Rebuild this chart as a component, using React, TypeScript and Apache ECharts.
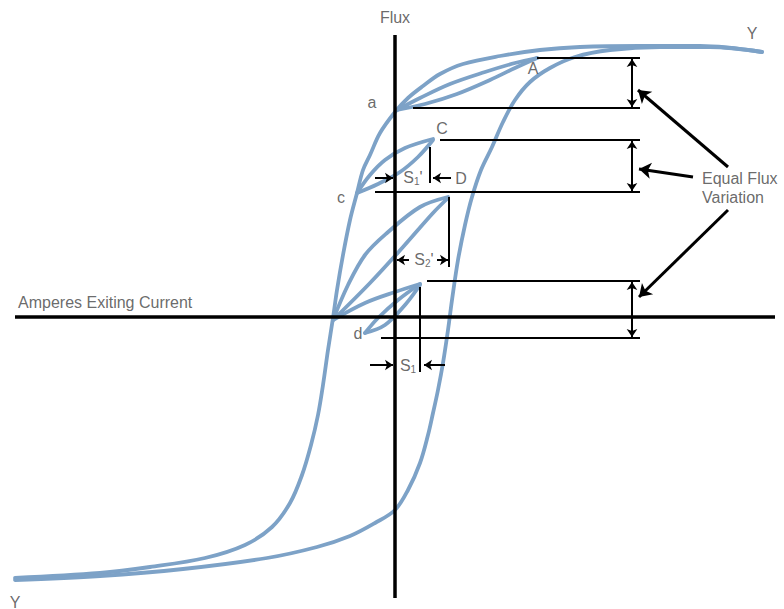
import React, { useEffect, useRef } from 'react';
import * as echarts from 'echarts';

// Coordinates: x = exciting current, y = flux (origin at the axes crossing)
const majorDescending: [number, number][] = [
  [367, 265], [305, 271], [245, 271], [185, 270], [145, 267], [105, 261], [68, 253],
  [45, 243], [28, 231], [13, 219], [0, 205], [-15, 184], [-25, 162], [-32, 147],
  [-38, 124], [-45, 97], [-52, 62], [-58, 27], [-62, -1], [-67, -33], [-72, -68],
  [-77, -98], [-84, -128], [-93, -158], [-105, -186], [-123, -210], [-150, -228],
  [-190, -241], [-245, -250], [-295, -256], [-380, -261],
];

const majorAscending: [number, number][] = [
  [-380, -263], [-295, -259], [-212, -252], [-128, -241], [-78, -230], [-45, -219],
  [-20, -206], [0, -193], [13, -173], [25, -146], [33, -118], [38, -96], [43, -73],
  [48, -46], [53, -13], [57, 17], [63, 57], [70, 92], [77, 120], [86, 147], [97, 170],
  [108, 195], [120, 217], [135, 235], [155, 249], [180, 260], [215, 267], [265, 270],
  [315, 270], [367, 265],
];

const loopAUpper: [number, number][] = [[2, 207], [25, 219], [55, 233], [90, 245], [120, 254], [142, 259]];
const loopALower: [number, number][] = [[2, 207], [30, 213], [62, 223], [95, 237], [120, 249], [142, 259]];

const loopCUpper: [number, number][] = [[-38, 124], [-25, 142], [-10, 157], [10, 169], [38, 178]];
const loopCLower: [number, number][] = [[-38, 124], [-17, 133], [5, 145], [23, 160], [38, 177]];

const loop2Upper: [number, number][] = [[-62, -3], [-47, 32], [-30, 62], [-8, 84], [25, 110], [53, 120]];
const loop2Lower: [number, number][] = [[-62, -3], [-25, 34], [8, 70], [38, 104], [53, 119]];

const loopDUpper: [number, number][] = [[-30, -16], [-17, -1], [3, 17], [25, 33]];
const loopDLower: [number, number][] = [[-30, -16], [-10, -8], [10, 12], [25, 32]];
const loopDEntry: [number, number][] = [[-62, -3], [-30, 14], [0, 25], [25, 33]];

// Annotation segments
const axisSegments: [number, number][][] = [
  [[-380, 0], [380, 0]],
  [[0, 282], [0, -281]],
];
const levelLines: [number, number][][] = [
  [[142, 259], [245, 259]],
  [[18, 209], [245, 209]],
  [[45, 177], [245, 177]],
  [[-20, 125], [245, 125]],
  [[32, 36], [245, 36]],
  [[-14, -21], [245, -21]],
  [[35, 170], [35, 134]],
  [[54, 120], [54, 50]],
  [[25, 30], [25, -55]],
];
const doubleArrows: [number, number][][] = [
  [[237, 258], [237, 210]],
  [[237, 176], [237, 126]],
  [[237, 35], [237, -20]],
];
const widthArrows: [number, number][][] = [
  [[-20, 139], [-2, 139]],
  [[56, 139], [38, 139]],
  [[14, 57], [2, 57]],
  [[42, 57], [53, 57]],
  [[-25, -48], [-2, -48]],
  [[50, -48], [29, -48]],
];
const pointerArrows: [number, number][][] = [
  [[333, 150], [243, 227]],
  [[298, 140], [244, 148]],
  [[333, 107], [244, 20]],
];

const labelTexts = ['Flux', 'Amperes Exiting Current', 'Y', 'Y', 'a', 'A', 'C', 'c', 'D', 'd', 'Equal Flux', 'Variation'];
const labelAnchors: [number, number][] = [
  [0, 300], [-377, 15], [357, 284], [-380, -285], [-23, 215], [138, 249], [47, 189],
  [-54, 120], [66, 139], [-37, -16], [307, 139], [307, 120],
];
const labelAlign = ['center', 'left', 'center', 'center', 'center', 'center', 'center', 'center', 'center', 'center', 'left', 'left'];

const subLabels = ["{m|S}{s|1}{m|'}", "{m|S}{s|2}{m|'}", '{m|S}{s|1}'];
const subAnchors: [number, number][] = [[18, 139], [29, 57], [13, -49]];

export default function App() {
  const ref = useRef<HTMLDivElement>(null);
  useEffect(() => {
    const chart = echarts.init(ref.current!, null, { renderer: 'svg' });
    const blue = '#7da2c7';
    const font = 'Liberation Sans, Arial, sans-serif';
    const textColor = '#444444';
    const curve = (name: string, data: [number, number][]) => ({
      type: 'line', name, data, smooth: 0.35, symbol: 'none', silent: true, z: 2,
      lineStyle: { color: blue, width: 3.8, cap: 'round' },
    });
    const segs = (name: string, list: [number, number][][], symbol: string[], size: number, width: number) => ({
      type: 'lines', name, coordinateSystem: 'cartesian2d', silent: true, z: 5,
      symbol, symbolSize: size,
      lineStyle: { color: '#000', width, opacity: 1, curveness: 0 },
      data: list.map((c) => ({ coords: c })),
    });
    chart.setOption({
      animation: false,
      backgroundColor: '#ffffff',
      grid: { left: 0, right: 0, top: 0, bottom: 0 },
      xAxis: { type: 'value', min: -395, max: 389, show: false },
      yAxis: { type: 'value', min: -292, max: 317, show: false },
      series: [
        curve('descending', majorDescending),
        curve('ascending', majorAscending),
        curve('aA upper', loopAUpper),
        curve('aA lower', loopALower),
        curve('cC upper', loopCUpper),
        curve('cC lower', loopCLower),
        curve('loop2 upper', loop2Upper),
        curve('loop2 lower', loop2Lower),
        curve('d upper', loopDUpper),
        curve('d lower', loopDLower),
        curve('d entry', loopDEntry),
        segs('axes', axisSegments, ['none', 'none'], 0, 3.5),
        segs('levels', levelLines, ['none', 'none'], 0, 2),
        segs('double', doubleArrows, ['arrow', 'arrow'], 8, 2),
        segs('widths', widthArrows, ['none', 'arrow'], 8, 2),
        segs('pointers', pointerArrows, ['none', 'arrow'], 12, 3),
        {
          type: 'scatter', name: 'labels', silent: true, z: 10, symbolSize: 1,
          itemStyle: { color: 'rgba(0,0,0,0)' },
          data: labelTexts.map((t, i) => ({
            value: labelAnchors[i],
            label: {
              show: true, formatter: t, position: 'inside', align: labelAlign[i], verticalAlign: 'middle',
              color: textColor, fontSize: 16, fontFamily: font,
            },
          })),
        },
        {
          type: 'scatter', name: 'sublabels', silent: true, z: 10, symbolSize: 1,
          itemStyle: { color: 'rgba(0,0,0,0)' },
          data: subLabels.map((t, i) => ({
            value: subAnchors[i],
            label: {
              show: true, formatter: t, position: 'inside', align: 'center', verticalAlign: 'middle',
              rich: {
                m: { fontSize: 16, fontFamily: font, color: textColor, lineHeight: 17, verticalAlign: 'top' },
                s: { fontSize: 10, fontFamily: font, color: textColor, lineHeight: 10, padding: [9, 0, 0, 0], verticalAlign: 'bottom' },
              },
            },
          })),
        },
      ],
    });
    return () => chart.dispose();
  }, []);
  return <div ref={ref} style={{ position: 'absolute', left: 0, top: 0, width: 784, height: 609 }} />;
}
